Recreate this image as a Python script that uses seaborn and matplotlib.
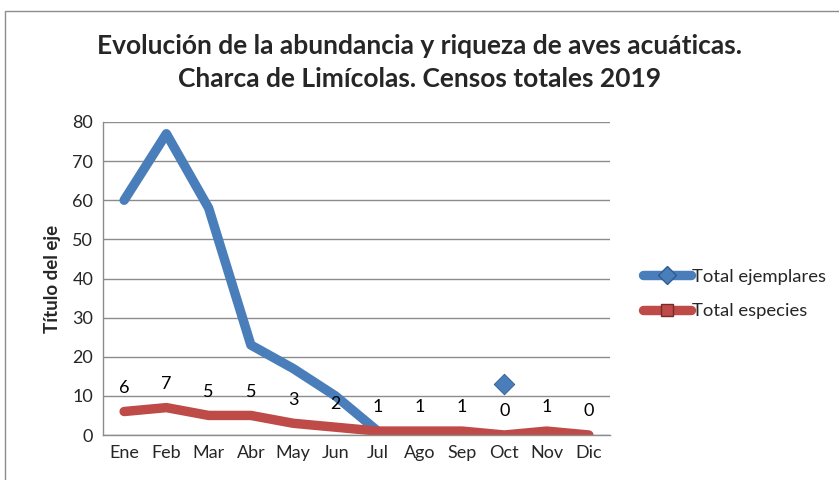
import matplotlib
matplotlib.use("Agg")
import matplotlib.pyplot as plt
from matplotlib.lines import Line2D
from matplotlib.patches import Rectangle
import numpy as np
import pandas as pd
import seaborn as sns

meses = ["Ene", "Feb", "Mar", "Abr", "May", "Jun", "Jul", "Ago", "Sep", "Oct", "Nov", "Dic"]
total_ejemplares = [60, 77, 58, 23, 17, 10, 1, np.nan, np.nan, 13, np.nan, np.nan]
total_especies = [6, 7, 5, 5, 3, 2, 1, 1, 1, 0, 1, 0]

azul = "#4a7ebb"
rojo = "#be4b48"

sns.set_theme(style="white")
plt.rcParams['font.family'] = ['Lato', 'DejaVu Sans']

df = pd.DataFrame({"idx": range(len(meses)), "mes": meses,
                   "ejemplares": total_ejemplares, "especies": total_especies})

fig = plt.figure(figsize=(8.39, 4.8), dpi=100)
ax = fig.add_axes([103 / 839, 1 - 435 / 480, 507 / 839, 313 / 480])


def plot_series(col, color, marker):
    # split in runs of valid values, isolated points become markers
    valid = df[col].notna().to_numpy()
    run = np.cumsum(~valid)
    for r in np.unique(run[valid]):
        seg = df[valid & (run == r)]
        if len(seg) > 1:
            sns.lineplot(data=seg, x="idx", y=col, ax=ax, color=color,
                         linewidth=6.8, solid_capstyle="round", solid_joinstyle="round")
        else:
            sns.scatterplot(data=seg, x="idx", y=col, ax=ax, color=color, marker=marker,
                            s=110, edgecolor="#2e5b8f", linewidth=0.6, zorder=4)


plot_series("ejemplares", azul, "D")
plot_series("especies", rojo, "s")

for i, v in zip(df["idx"], df["especies"]):
    ax.annotate("%d" % v, xy=(i, v), xytext=(0, 17), textcoords="offset points",
                ha="center", va="center", fontsize=13, color="black")

ax.set_xlim(-0.5, len(meses) - 0.5)
ax.set_ylim(0, 80)
ax.set_yticks(range(0, 81, 10))
ax.set_xticks(df["idx"])
ax.set_xticklabels(meses)
ax.tick_params(axis="both", labelsize=13, length=0, pad=7)
ax.yaxis.grid(True, color="#8c8c8c", linewidth=1)
ax.set_axisbelow(True)
for s in ["top", "right"]:
    ax.spines[s].set_visible(False)
for s in ["left", "bottom"]:
    ax.spines[s].set_color("#8c8c8c")
    ax.spines[s].set_linewidth(1)
ax.set_xlabel("")
ax.set_ylabel("Título del eje", fontsize=13.5, fontweight="bold", labelpad=8)

fig.suptitle("Evolución de la abundancia y riqueza de aves acuáticas.\nCharca de Limícolas. Censos totales 2019",
             x=0.5, y=0.929, fontsize=19, fontweight="bold", linespacing=1.43)

handles = [
    Line2D([], [], color=azul, linewidth=6.8, marker="D", markersize=9,
           markerfacecolor=azul, markeredgecolor="#2e5b8f", solid_capstyle="round"),
    Line2D([], [], color=rojo, linewidth=6.8, marker="s", markersize=8,
           markerfacecolor=rojo, markeredgecolor="#7a2a28", solid_capstyle="round"),
]
fig.legend(handles, ["Total ejemplares", "Total especies"], loc="center left",
           bbox_to_anchor=(626 / 839, 1 - 294 / 480), frameon=False, fontsize=13.3,
           handlelength=2.6, handletextpad=0.1, labelspacing=1.0)

fig.patches.append(Rectangle((5 / 839, -0.1), 1.2, 1 - 11 / 480 + 0.1, transform=fig.transFigure,
                             fill=False, edgecolor="#8c8c8c", linewidth=1))

fig.savefig("out.png", dpi=100)
